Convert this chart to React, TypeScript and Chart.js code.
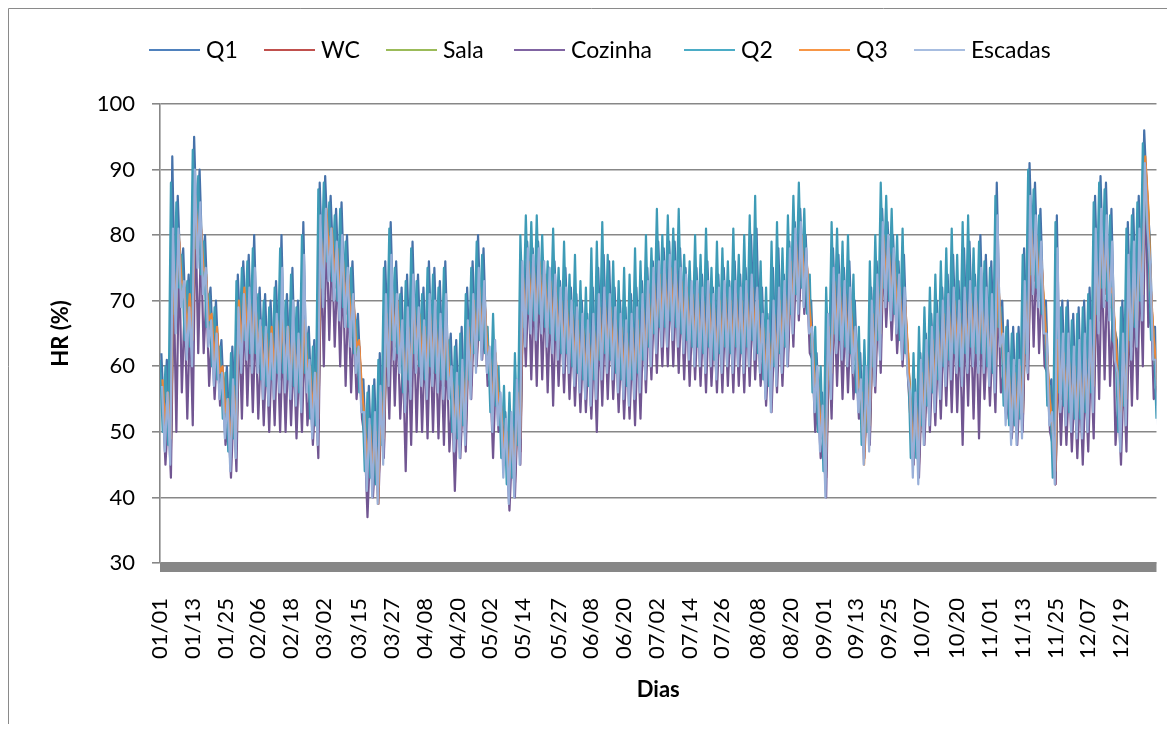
import React, { useEffect, useRef } from "react";
import { Chart, registerables } from "chart.js";

Chart.register(...registerables);

// ---- Data (HR %; one daily-max / daily-min pair per 2-day bin) ----
const seriesNames = ["Q1", "WC", "Sala", "Cozinha", "Q2", "Q3", "Escadas"];

const tickDays = [0, 12, 24, 36, 48, 60, 73, 85, 97, 109, 121, 133, 146, 158, 170, 182, 194, 206, 219, 231, 243, 255, 267, 279, 292, 304, 316, 328, 340, 352];
const tickLabels = ["01/01", "01/13", "01/25", "02/06", "02/18", "03/02", "03/15", "03/27", "04/08", "04/20", "05/02", "05/14", "05/27", "06/08", "06/20", "07/02", "07/14", "07/26", "08/08", "08/20", "09/01", "09/13", "09/25", "10/07", "10/20", "11/01", "11/13", "11/25", "12/07", "12/19"];

const q1Hi = [
  62, 61, 92, 86, 78, 74, 95, 90, 80, 72,
  70, 64, 60, 63, 74, 76, 77, 80, 72, 71,
  70, 73, 80, 71, 75, 70, 82, 66, 64, 88,
  89, 86, 84, 85, 80, 76, 68, 58, 57, 58,
  62, 76, 82, 76, 72, 74, 79, 74, 72, 76,
  75, 73, 76, 65, 64, 66, 72, 76, 80, 78,
  62, 64, 56, 53, 52, 58, 76, 79, 78, 79,
  76, 75, 76, 73, 75, 72, 71, 70, 68, 72,
  75, 77, 76, 72, 70, 69, 71, 72, 73, 75,
  76, 79, 78, 79, 79, 78, 75, 72, 75, 74,
  76, 72, 74, 75, 73, 76, 74, 75, 80, 81,
  72, 68, 75, 78, 74, 79, 82, 84, 80, 70,
  62, 56, 68, 78, 77, 75, 76, 70, 62, 60,
  72, 76, 84, 82, 80, 76, 77, 58, 58, 62,
  65, 68, 70, 72, 74, 77, 73, 78, 79, 74,
  80, 77, 76, 88, 70, 67, 66, 66, 78, 91,
  88, 84, 70, 58, 83, 70, 70, 68, 69, 70,
  72, 86, 89, 88, 84, 64, 70, 82, 84, 86,
  96, 80, 66,
];
const q1Lo = [
  52, 50, 70, 74, 66, 65, 80, 76, 68, 62,
  60, 54, 49, 51, 64, 66, 64, 64, 60, 59,
  60, 61, 61, 60, 59, 58, 61, 54, 53, 74,
  78, 75, 72, 71, 68, 64, 58, 46, 45, 44,
  50, 62, 66, 64, 58, 60, 64, 62, 60, 62,
  61, 60, 60, 52, 51, 53, 60, 64, 66, 64,
  55, 56, 48, 44, 45, 50, 68, 70, 69, 70,
  68, 67, 66, 64, 64, 62, 61, 60, 59, 60,
  63, 64, 63, 61, 60, 59, 60, 61, 63, 65,
  67, 68, 68, 69, 68, 67, 66, 65, 65, 64,
  65, 63, 64, 65, 64, 65, 64, 65, 66, 64,
  60, 59, 62, 64, 65, 70, 73, 74, 70, 58,
  52, 46, 60, 67, 66, 65, 64, 58, 50, 52,
  62, 66, 74, 72, 70, 66, 64, 48, 48, 53,
  56, 58, 60, 62, 63, 64, 62, 64, 65, 64,
  64, 62, 61, 68, 56, 53, 53, 54, 64, 76,
  74, 70, 56, 45, 58, 56, 55, 54, 54, 55,
  58, 70, 74, 72, 66, 52, 56, 66, 68, 72,
  86, 66, 54,
];
const wcHi = [
  57, 55, 75, 79, 71, 70, 85, 81, 73, 67,
  65, 59, 54, 56, 69, 71, 69, 69, 65, 64,
  65, 66, 66, 65, 64, 63, 66, 59, 58, 79,
  83, 80, 77, 76, 73, 69, 63, 51, 50, 49,
  55, 67, 71, 69, 63, 65, 69, 67, 65, 67,
  66, 65, 65, 57, 56, 58, 65, 69, 71, 69,
  60, 61, 53, 49, 50, 55, 73, 75, 74, 75,
  73, 72, 71, 69, 69, 67, 66, 65, 64, 65,
  68, 69, 68, 66, 65, 64, 65, 66, 68, 70,
  72, 73, 73, 74, 73, 72, 71, 70, 70, 69,
  70, 68, 69, 70, 69, 70, 69, 70, 71, 69,
  65, 64, 67, 69, 70, 75, 78, 79, 75, 63,
  57, 51, 65, 72, 71, 70, 69, 63, 55, 57,
  67, 71, 79, 77, 75, 71, 69, 53, 53, 58,
  61, 63, 65, 67, 68, 69, 67, 69, 70, 69,
  69, 67, 66, 73, 61, 58, 58, 59, 69, 81,
  79, 75, 61, 50, 63, 61, 60, 59, 59, 60,
  63, 75, 79, 77, 71, 57, 61, 71, 73, 77,
  91, 71, 59,
];
const wcLo = [
  49, 47, 67, 71, 63, 62, 77, 73, 65, 59,
  57, 51, 46, 48, 61, 63, 61, 61, 57, 56,
  57, 58, 58, 57, 56, 55, 58, 51, 50, 71,
  75, 72, 69, 68, 65, 61, 55, 43, 42, 41,
  47, 59, 63, 61, 55, 57, 61, 59, 57, 59,
  58, 57, 57, 49, 48, 50, 57, 61, 63, 61,
  52, 53, 45, 41, 42, 47, 65, 67, 66, 67,
  65, 64, 63, 61, 61, 59, 58, 57, 56, 57,
  60, 61, 60, 58, 57, 56, 57, 58, 60, 62,
  64, 65, 65, 66, 65, 64, 63, 62, 62, 61,
  62, 60, 61, 62, 61, 62, 61, 62, 63, 61,
  57, 56, 59, 61, 62, 67, 70, 71, 67, 55,
  49, 43, 57, 64, 63, 62, 61, 55, 47, 49,
  59, 63, 71, 69, 67, 63, 61, 45, 45, 50,
  53, 55, 57, 59, 60, 61, 59, 61, 62, 61,
  61, 59, 58, 65, 53, 50, 50, 51, 61, 73,
  71, 67, 53, 42, 55, 53, 52, 51, 51, 52,
  55, 67, 71, 69, 63, 49, 53, 63, 65, 69,
  83, 63, 51,
];
const salaHi = [
  56, 54, 74, 78, 70, 69, 84, 80, 72, 66,
  64, 58, 53, 55, 68, 70, 68, 68, 64, 63,
  64, 65, 65, 64, 63, 62, 65, 58, 57, 78,
  82, 79, 76, 75, 72, 68, 62, 50, 49, 48,
  54, 66, 70, 68, 62, 64, 68, 66, 64, 66,
  65, 64, 64, 56, 55, 57, 64, 68, 70, 68,
  59, 60, 52, 48, 49, 54, 72, 74, 73, 74,
  72, 71, 70, 68, 68, 66, 65, 64, 63, 64,
  67, 68, 67, 65, 64, 63, 64, 65, 67, 69,
  71, 72, 72, 73, 72, 71, 70, 69, 69, 68,
  69, 67, 68, 69, 68, 69, 68, 69, 70, 68,
  64, 63, 66, 68, 69, 74, 77, 78, 74, 62,
  56, 50, 64, 71, 70, 69, 68, 62, 54, 56,
  66, 70, 78, 76, 74, 70, 68, 52, 52, 57,
  60, 62, 64, 66, 67, 68, 66, 68, 69, 68,
  68, 66, 65, 72, 60, 57, 57, 58, 68, 80,
  78, 74, 60, 49, 62, 60, 59, 58, 58, 59,
  62, 74, 78, 76, 70, 56, 60, 70, 72, 76,
  90, 70, 58,
];
const salaLo = [
  50, 48, 68, 72, 64, 63, 78, 74, 66, 60,
  58, 52, 47, 49, 62, 64, 62, 62, 58, 57,
  58, 59, 59, 58, 57, 56, 59, 52, 51, 72,
  76, 73, 70, 69, 66, 62, 56, 44, 43, 42,
  48, 60, 64, 62, 56, 58, 62, 60, 58, 60,
  59, 58, 58, 50, 49, 51, 58, 62, 64, 62,
  53, 54, 46, 42, 43, 48, 66, 68, 67, 68,
  66, 65, 64, 62, 62, 60, 59, 58, 57, 58,
  61, 62, 61, 59, 58, 57, 58, 59, 61, 63,
  65, 66, 66, 67, 66, 65, 64, 63, 63, 62,
  63, 61, 62, 63, 62, 63, 62, 63, 64, 62,
  58, 57, 60, 62, 63, 68, 71, 72, 68, 56,
  50, 44, 58, 65, 64, 63, 62, 56, 48, 50,
  60, 64, 72, 70, 68, 64, 62, 46, 46, 51,
  54, 56, 58, 60, 61, 62, 60, 62, 63, 62,
  62, 60, 59, 66, 54, 51, 51, 52, 62, 74,
  72, 68, 54, 43, 56, 54, 53, 52, 52, 53,
  56, 68, 72, 70, 64, 50, 54, 64, 66, 70,
  84, 64, 52,
];
const cozHi = [
  55, 53, 73, 77, 69, 68, 83, 79, 71, 65,
  63, 57, 52, 54, 67, 69, 67, 67, 63, 62,
  63, 64, 64, 63, 62, 61, 64, 57, 56, 77,
  81, 78, 75, 74, 71, 67, 61, 49, 48, 47,
  53, 65, 69, 67, 61, 63, 67, 65, 63, 65,
  64, 63, 63, 55, 54, 56, 63, 67, 69, 67,
  58, 59, 51, 47, 48, 53, 71, 73, 72, 73,
  71, 70, 69, 67, 67, 65, 64, 63, 62, 63,
  66, 67, 66, 64, 63, 62, 63, 64, 66, 68,
  70, 71, 71, 72, 71, 70, 69, 68, 68, 67,
  68, 66, 67, 68, 67, 68, 67, 68, 69, 67,
  63, 62, 65, 67, 68, 73, 76, 77, 73, 61,
  55, 49, 63, 70, 69, 68, 67, 61, 53, 55,
  65, 69, 77, 75, 73, 69, 67, 51, 51, 56,
  59, 61, 63, 65, 66, 67, 65, 67, 68, 67,
  67, 65, 64, 71, 59, 56, 56, 57, 67, 79,
  77, 73, 59, 48, 61, 59, 58, 57, 57, 58,
  61, 73, 77, 75, 69, 55, 59, 69, 71, 75,
  89, 69, 57,
];
const cozLo = [
  45, 43, 50, 56, 52, 51, 62, 62, 57, 55,
  54, 48, 43, 44, 52, 54, 53, 52, 51, 50,
  51, 50, 50, 51, 49, 50, 51, 48, 46, 60,
  64, 63, 60, 57, 56, 55, 52, 37, 40, 39,
  46, 52, 54, 52, 44, 48, 50, 50, 49, 50,
  49, 48, 47, 41, 46, 47, 55, 60, 61, 57,
  46, 50, 46, 38, 40, 45, 60, 58, 57, 58,
  56, 54, 57, 56, 55, 54, 53, 53, 52, 50,
  54, 55, 55, 53, 52, 52, 51, 52, 56, 58,
  59, 60, 60, 60, 59, 58, 57, 58, 57, 56,
  57, 56, 56, 57, 56, 57, 56, 57, 58, 57,
  54, 53, 56, 57, 60, 63, 67, 68, 62, 50,
  46, 40, 52, 57, 55, 56, 55, 52, 46, 48,
  56, 59, 66, 64, 62, 60, 58, 45, 43, 48,
  50, 51, 52, 54, 53, 53, 48, 54, 52, 49,
  55, 54, 53, 56, 52, 49, 48, 50, 58, 63,
  62, 60, 50, 42, 48, 48, 47, 46, 45, 47,
  49, 55, 58, 57, 48, 45, 47, 54, 55, 60,
  66, 55, 46,
];
const q2Hi = [
  61, 60, 88, 85, 77, 73, 93, 89, 79, 71,
  69, 63, 59, 62, 73, 75, 76, 78, 71, 70,
  69, 72, 78, 70, 74, 69, 80, 65, 63, 87,
  88, 85, 83, 84, 79, 75, 67, 57, 56, 57,
  61, 75, 81, 75, 71, 73, 78, 73, 71, 75,
  74, 72, 75, 64, 63, 65, 71, 75, 79, 77,
  66, 68, 60, 57, 56, 62, 80, 83, 82, 83,
  80, 76, 81, 75, 79, 74, 77, 73, 72, 78,
  79, 82, 77, 76, 73, 75, 74, 78, 76, 80,
  78, 84, 80, 83, 81, 84, 77, 76, 80, 77,
  81, 75, 79, 78, 76, 81, 77, 80, 83, 86,
  76, 72, 79, 82, 78, 83, 86, 88, 84, 74,
  66, 60, 72, 82, 81, 79, 80, 74, 66, 64,
  76, 80, 88, 86, 84, 80, 81, 62, 62, 66,
  69, 72, 74, 76, 78, 81, 77, 82, 83, 78,
  79, 76, 75, 86, 69, 66, 65, 65, 77, 90,
  87, 83, 69, 57, 82, 69, 69, 67, 68, 69,
  71, 85, 88, 87, 83, 63, 69, 81, 83, 85,
  94, 79, 65,
];
const q2Lo = [
  50, 48, 68, 72, 64, 63, 78, 74, 66, 60,
  58, 52, 47, 49, 62, 64, 62, 62, 58, 57,
  58, 59, 59, 58, 57, 56, 59, 52, 51, 72,
  76, 73, 70, 69, 66, 62, 56, 44, 43, 42,
  48, 60, 64, 62, 56, 58, 62, 60, 58, 60,
  59, 58, 58, 50, 49, 51, 58, 62, 64, 62,
  53, 54, 46, 42, 43, 48, 66, 68, 67, 68,
  66, 65, 64, 62, 62, 60, 59, 58, 57, 58,
  61, 62, 61, 59, 58, 57, 58, 59, 61, 63,
  65, 66, 66, 67, 66, 65, 64, 63, 63, 62,
  63, 61, 62, 63, 62, 63, 62, 63, 64, 62,
  58, 57, 60, 62, 63, 68, 71, 72, 68, 56,
  50, 44, 58, 65, 64, 63, 62, 56, 48, 50,
  60, 64, 72, 70, 68, 64, 62, 46, 46, 51,
  54, 56, 58, 60, 61, 62, 60, 62, 63, 62,
  62, 60, 59, 66, 54, 51, 51, 52, 62, 74,
  72, 68, 54, 43, 56, 54, 53, 52, 52, 53,
  56, 68, 72, 70, 64, 50, 54, 64, 66, 70,
  84, 64, 52,
];
const q3Hi = [
  58, 56, 76, 80, 72, 71, 86, 82, 74, 68,
  66, 60, 55, 57, 70, 72, 70, 70, 66, 65,
  66, 67, 67, 66, 65, 64, 67, 60, 59, 80,
  84, 81, 78, 77, 74, 70, 64, 52, 51, 50,
  56, 68, 72, 70, 64, 66, 70, 68, 66, 68,
  67, 66, 66, 58, 57, 59, 66, 70, 72, 70,
  61, 62, 54, 50, 51, 56, 74, 76, 75, 76,
  74, 73, 72, 70, 70, 68, 67, 66, 65, 66,
  69, 70, 69, 67, 66, 65, 66, 67, 69, 71,
  73, 74, 74, 75, 74, 73, 72, 71, 71, 70,
  71, 69, 70, 71, 70, 71, 70, 71, 72, 70,
  66, 65, 68, 70, 71, 76, 79, 80, 76, 64,
  58, 52, 66, 73, 72, 71, 70, 64, 56, 58,
  68, 72, 80, 78, 76, 72, 70, 54, 54, 59,
  62, 64, 66, 68, 69, 70, 68, 70, 71, 70,
  70, 68, 67, 74, 62, 59, 59, 60, 70, 82,
  80, 76, 62, 51, 64, 62, 61, 60, 60, 61,
  64, 76, 80, 78, 72, 58, 62, 72, 74, 78,
  92, 72, 60,
];
const q3Lo = [
  51, 49, 69, 73, 65, 64, 79, 75, 67, 61,
  59, 53, 48, 50, 63, 65, 63, 63, 59, 58,
  59, 60, 60, 59, 58, 57, 60, 53, 52, 73,
  77, 74, 71, 70, 67, 63, 57, 45, 44, 39,
  49, 61, 65, 63, 57, 59, 63, 61, 59, 61,
  60, 59, 59, 51, 50, 52, 59, 63, 65, 63,
  54, 55, 47, 43, 44, 49, 67, 69, 68, 69,
  67, 66, 65, 63, 63, 61, 60, 59, 58, 59,
  62, 63, 62, 60, 59, 58, 59, 60, 62, 64,
  66, 67, 67, 68, 67, 66, 65, 64, 64, 63,
  64, 62, 63, 64, 63, 64, 63, 64, 65, 63,
  59, 58, 61, 63, 64, 69, 72, 73, 69, 57,
  51, 45, 59, 66, 65, 64, 63, 57, 45, 51,
  61, 65, 73, 71, 69, 65, 63, 47, 47, 52,
  55, 57, 59, 61, 62, 63, 61, 63, 64, 63,
  63, 61, 60, 67, 55, 52, 52, 53, 63, 75,
  73, 69, 55, 44, 57, 55, 54, 53, 53, 54,
  57, 69, 73, 71, 65, 51, 55, 65, 67, 71,
  85, 65, 53,
];
const esHi = [
  57, 56, 81, 81, 73, 69, 90, 85, 75, 67,
  65, 59, 55, 58, 69, 71, 72, 75, 67, 66,
  65, 68, 75, 66, 70, 65, 77, 61, 59, 83,
  84, 81, 79, 80, 75, 71, 63, 53, 52, 53,
  57, 71, 77, 71, 67, 69, 74, 69, 67, 71,
  70, 68, 71, 60, 59, 61, 67, 71, 75, 73,
  63, 64, 56, 52, 53, 58, 76, 78, 77, 78,
  76, 75, 74, 72, 72, 70, 69, 68, 67, 68,
  71, 72, 71, 69, 68, 67, 68, 69, 71, 73,
  75, 76, 76, 77, 76, 75, 74, 73, 73, 72,
  73, 71, 72, 73, 72, 73, 72, 73, 74, 72,
  68, 67, 70, 72, 73, 78, 81, 82, 78, 66,
  60, 54, 68, 75, 74, 73, 72, 66, 58, 60,
  70, 74, 82, 80, 78, 74, 72, 56, 56, 61,
  64, 66, 68, 70, 71, 72, 70, 72, 73, 72,
  75, 72, 71, 83, 65, 62, 61, 61, 73, 86,
  83, 79, 65, 53, 78, 65, 65, 63, 64, 65,
  67, 81, 84, 83, 79, 59, 65, 77, 79, 81,
  91, 75, 61,
];
const esLo = [
  47, 45, 65, 69, 61, 60, 75, 71, 63, 57,
  55, 49, 44, 46, 59, 61, 59, 59, 55, 54,
  55, 56, 56, 55, 54, 53, 56, 49, 48, 69,
  73, 70, 67, 66, 63, 59, 53, 41, 40, 39,
  45, 57, 61, 59, 53, 55, 59, 57, 55, 57,
  56, 55, 55, 47, 46, 48, 55, 59, 61, 59,
  50, 51, 43, 39, 40, 45, 63, 65, 64, 65,
  63, 62, 61, 59, 59, 57, 56, 55, 54, 55,
  58, 59, 58, 56, 55, 54, 55, 56, 58, 60,
  62, 63, 63, 64, 63, 62, 61, 60, 60, 59,
  60, 58, 59, 60, 59, 60, 59, 60, 61, 59,
  55, 53, 57, 59, 60, 65, 68, 69, 65, 53,
  47, 40, 55, 62, 61, 60, 59, 53, 45, 47,
  57, 61, 69, 67, 65, 61, 59, 43, 42, 48,
  51, 53, 55, 57, 58, 59, 57, 59, 60, 59,
  59, 57, 56, 63, 51, 48, 48, 49, 59, 71,
  69, 65, 51, 42, 53, 51, 50, 49, 49, 50,
  53, 65, 69, 67, 61, 47, 51, 61, 63, 67,
  81, 61, 49,
];

// legend swatch colours and the (slightly deeper) plotted line colours
const legendColors = ["#4F81BD", "#C0504D", "#9BBB59", "#8064A2", "#4BACC6", "#F79646", "#A7BDE0"];
const lineColors = ["#4672AA", "#B84A47", "#8FB04F", "#715692", "#3E9BB6", "#E8873C", "#99B0D9"];
const seriesHi = [q1Hi, wcHi, salaHi, cozHi, q2Hi, q3Hi, esHi];
const seriesLo = [q1Lo, wcLo, salaLo, cozLo, q2Lo, q3Lo, esLo];
const seriesPhase = [0.5, 1, 1, 1, 0, 0.9, 0.75];
const BIN_DAYS = 2;

const FONT = "Lato";
const legendStartX = [141, 256, 378, 506, 676, 791, 906];

function zigzag(hi: number[], lo: number[], step: number, phase: number) {
  const pts: { x: number; y: number }[] = [];
  hi.forEach((h, i) => {
    pts.push({ x: i * step + phase, y: h });
    pts.push({ x: i * step + phase + step / 2, y: lo[i] });
  });
  return pts;
}

const decor = {
  id: "decor",
  beforeDraw(chart: any) {
    const ctx = chart.ctx;
    ctx.save();
    ctx.strokeStyle = "#8a8a8a";
    ctx.lineWidth = 1;
    ctx.beginPath();
    ctx.moveTo(0.5, chart.height);
    ctx.lineTo(0.5, 0.5);
    ctx.lineTo(chart.width, 0.5);
    ctx.stroke();
    ctx.restore();
  },
  afterDraw(chart: any) {
    const ctx = chart.ctx;
    const { left, right, top, bottom } = chart.chartArea;
    ctx.save();
    // dense category tick marks forming a solid band under the plot
    ctx.fillStyle = "#878787";
    ctx.fillRect(left, bottom - 0.5, right - left, 9.5);
    // legend
    ctx.font = `23px ${FONT}`;
    ctx.textBaseline = "alphabetic";
    ctx.textAlign = "left";
    seriesNames.forEach((name, i) => {
      const x0 = legendStartX[i];
      ctx.strokeStyle = legendColors[i];
      ctx.lineWidth = 2;
      ctx.beginPath();
      ctx.moveTo(x0, 42);
      ctx.lineTo(x0 + 51, 42);
      ctx.stroke();
      ctx.fillStyle = "#000";
      ctx.fillText(name, x0 + 57, 50);
    });
    // axis titles
    ctx.font = `bold 22px ${FONT}`;
    ctx.fillStyle = "#000";
    ctx.textAlign = "center";
    ctx.fillText("Dias", (left + right) / 2, 689);
    ctx.translate(60, (top + bottom) / 2);
    ctx.rotate(-Math.PI / 2);
    ctx.fillText("HR (%)", 0, 0);
    ctx.restore();
  },
};

export default function App() {
  const ref = useRef<HTMLCanvasElement>(null);
  useEffect(() => {
    const datasets = seriesNames.map((name, i) => ({
      label: name,
      data: zigzag(seriesHi[i], seriesLo[i], BIN_DAYS, seriesPhase[i]),
      borderColor: lineColors[i],
      backgroundColor: lineColors[i],
      borderWidth: 2.2,
      borderJoinStyle: "round" as const,
      pointRadius: 0,
      tension: 0,
      fill: false,
      order: seriesNames.length - i,
    }));
    const chart = new Chart(ref.current as HTMLCanvasElement, {
      type: "line",
      data: { datasets },
      plugins: [decor],
      options: {
        responsive: false,
        maintainAspectRatio: false,
        animation: false,
        devicePixelRatio: 1,
        layout: { padding: { left: 0, right: 17, top: 96, bottom: 0 } },
        plugins: { legend: { display: false }, tooltip: { enabled: false }, title: { display: false } },
        scales: {
          x: {
            type: "linear",
            min: 0,
            max: 365,
            afterBuildTicks: (s: any) => {
              s.ticks = tickDays.map((v) => ({ value: v }));
            },
            afterFit: (s: any) => {
              s.height = 161;
            },
            grid: { display: false },
            border: { display: false },
            ticks: {
              autoSkip: false,
              maxRotation: 90,
              minRotation: 90,
              padding: 27,
              color: "#000",
              font: { family: FONT, size: 22 },
              callback: (v: any) => tickLabels[tickDays.indexOf(Number(v))] ?? "",
            },
          },
          y: {
            min: 30,
            max: 100,
            afterFit: (s: any) => {
              s.width = 152;
            },
            ticks: { stepSize: 10, padding: 17, color: "#000", font: { family: FONT, size: 22 } },
            grid: { color: "#878787", lineWidth: 1.6, tickLength: 8, tickColor: "#878787", drawTicks: true },
            border: { color: "#878787", width: 1.6 },
          },
        },
      },
    });
    return () => chart.destroy();
  }, []);
  return <canvas ref={ref} width={1167} height={716} style={{ display: "block" }} />;
}
